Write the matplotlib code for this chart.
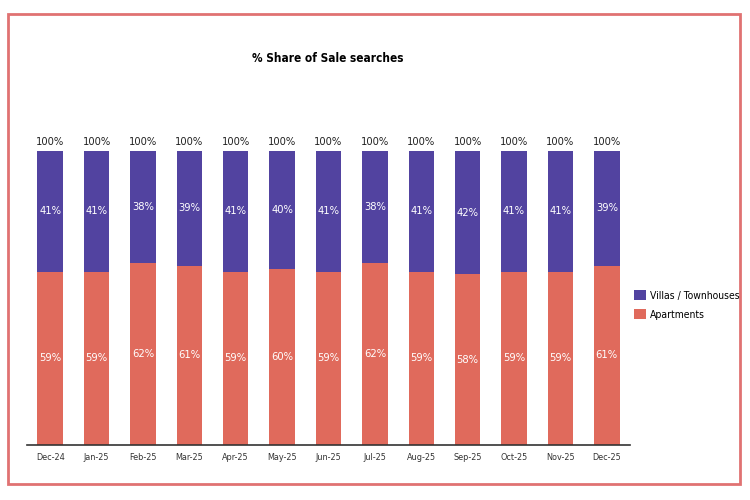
import matplotlib
matplotlib.use('Agg')
import matplotlib.pyplot as plt
from matplotlib.patches import Rectangle

plt.rcParams['font.family'] = ['DejaVu Sans']
plt.rcParams['font.stretch'] = 'condensed'

# Données
months = ['Dec-24', 'Jan-25', 'Feb-25', 'Mar-25', 'Apr-25', 'May-25', 'Jun-25',
          'Jul-25', 'Aug-25', 'Sep-25', 'Oct-25', 'Nov-25', 'Dec-25']
apartments = [59, 59, 62, 61, 59, 60, 59, 62, 59, 58, 59, 59, 61]
villas = [41, 41, 38, 39, 41, 40, 41, 38, 41, 42, 41, 41, 39]
totals = [100] * len(months)

col_apt = '#E06A5C'
col_villa = '#5243A0'

fig = plt.figure(figsize=(7.5, 5), dpi=100)
ax = fig.add_axes([27 / 750, 55 / 500, 603 / 750, 294 / 500])

x = range(len(months))
b1 = ax.bar(x, apartments, width=0.55, color=col_apt, label='Apartments')
b2 = ax.bar(x, villas, width=0.55, bottom=apartments, color=col_villa,
            label='Villas / Townhouses')

for i in x:
    ax.text(i, apartments[i] / 2, f'{apartments[i]}%', ha='center', va='center',
            color='white', fontsize=8)
    ax.text(i, apartments[i] + villas[i] / 2, f'{villas[i]}%', ha='center',
            va='center', color='white', fontsize=8)
    ax.text(i, totals[i] + 1.5, f'{totals[i]}%', ha='center', va='bottom',
            color='#222222', fontsize=8, clip_on=False)

ax.set_xlim(-0.5, len(months) - 0.5)
ax.set_ylim(0, 100)
ax.set_xticks(list(x))
ax.set_xticklabels(months, fontsize=6.5, color='#333333')
ax.tick_params(axis='x', length=0, pad=6)
ax.set_yticks([])
for s in ['top', 'right', 'left']:
    ax.spines[s].set_visible(False)
ax.spines['bottom'].set_color('#333333')
ax.spines['bottom'].set_linewidth(1.2)

fig.text(328 / 750, 1 - 58 / 500, '% Share of Sale searches', ha='center',
         va='center', fontsize=8.5, fontweight='bold')

handles = [b2, b1]
fig.legend(handles, [h.get_label() for h in handles], loc='center left',
           bbox_to_anchor=(632 / 750, 1 - 305 / 500), frameon=False, fontsize=7.5,
           borderaxespad=0, borderpad=0.2,
           handlelength=1.1, handleheight=1.1, handletextpad=0.4, labelspacing=0.8)

# Cadre rouge
fig.patches.append(Rectangle((8 / 750, 16 / 500), 732 / 750, 470 / 500,
                             transform=fig.transFigure, fill=False,
                             edgecolor='#E07272', linewidth=2))

fig.savefig('out.png', dpi=100)
